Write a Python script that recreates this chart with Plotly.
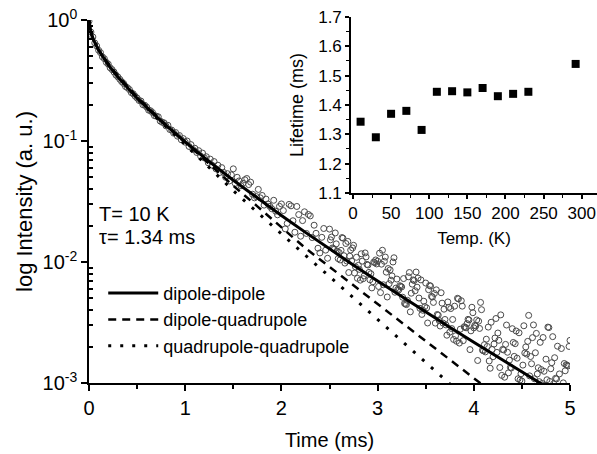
import plotly.graph_objects as go

# ---------------- data ----------------
time_ms = [
    0.00, 0.02, 0.04, 0.06, 0.08, 0.10, 0.12, 0.14, 0.16, 0.18,
    0.20, 0.22, 0.24, 0.26, 0.28, 0.30, 0.32, 0.34, 0.36, 0.38,
    0.40, 0.42, 0.44, 0.46, 0.48, 0.50, 0.52, 0.54, 0.56, 0.58,
    0.60, 0.62, 0.64, 0.66, 0.68, 0.70, 0.72, 0.74, 0.76, 0.78,
    0.80, 0.82, 0.84, 0.86, 0.88, 0.90, 0.92, 0.94, 0.96, 0.98,
    1.00, 1.02, 1.04, 1.06, 1.08, 1.10, 1.12, 1.14, 1.16, 1.18,
    1.20, 1.22, 1.24, 1.26, 1.28, 1.30, 1.32, 1.34, 1.36, 1.38,
    1.40, 1.42, 1.44, 1.46, 1.48, 1.50, 1.52, 1.54, 1.56, 1.58,
    1.60, 1.62, 1.64, 1.66, 1.68, 1.70, 1.72, 1.74, 1.76, 1.78,
    1.80, 1.82, 1.84, 1.86, 1.88, 1.90, 1.92, 1.94, 1.96, 1.98,
    2.00, 2.02, 2.04, 2.06, 2.08, 2.10, 2.12, 2.14, 2.16, 2.18,
    2.20, 2.22, 2.24, 2.26, 2.28, 2.30, 2.32, 2.34, 2.36, 2.38,
    2.40, 2.42, 2.44, 2.46, 2.48, 2.50, 2.52, 2.54, 2.56, 2.58,
    2.60, 2.62, 2.64, 2.66, 2.68, 2.70, 2.72, 2.74, 2.76, 2.78,
    2.80, 2.82, 2.84, 2.86, 2.88, 2.90, 2.92, 2.94, 2.96, 2.98,
    3.00, 3.02, 3.04, 3.06, 3.08, 3.10, 3.12, 3.14, 3.16, 3.18,
    3.20, 3.22, 3.24, 3.26, 3.28, 3.30, 3.32, 3.34, 3.36, 3.38,
    3.40, 3.42, 3.44, 3.46, 3.48, 3.50, 3.52, 3.54, 3.56, 3.58,
    3.60, 3.62, 3.64, 3.66, 3.68, 3.70, 3.72, 3.74, 3.76, 3.78,
    3.80, 3.82, 3.84, 3.86, 3.88, 3.90, 3.92, 3.94, 3.96, 3.98,
    4.00, 4.02, 4.04, 4.06, 4.08, 4.10, 4.12, 4.14, 4.16, 4.18,
    4.20, 4.22, 4.24, 4.26, 4.28, 4.30, 4.32, 4.34, 4.36, 4.38,
    4.40, 4.42, 4.44, 4.46, 4.48, 4.50, 4.52, 4.54, 4.56, 4.58,
    4.60, 4.62, 4.64, 4.66, 4.68, 4.70, 4.72, 4.74, 4.76, 4.78,
    4.80, 4.82, 4.84, 4.86, 4.88, 4.90, 4.92, 4.94, 4.96, 4.98,
    5.00,
]

# measured decay, log10 of intensity
log_intensity = [
    -0.01, -0.10, -0.14, -0.19, -0.215, -0.25, -0.27, -0.305, -0.32, -0.35,
    -0.365, -0.395, -0.41, -0.43, -0.455, -0.47, -0.49, -0.51, -0.525, -0.55,
    -0.56, -0.575, -0.60, -0.61, -0.63, -0.645, -0.665, -0.67, -0.70, -0.705,
    -0.72, -0.745, -0.75, -0.765, -0.79, -0.795, -0.80, -0.835, -0.845, -0.85,
    -0.875, -0.87, -0.905, -0.91, -0.935, -0.93, -0.96, -0.955, -0.99, -0.98,
    -1.01, -1.00, -1.045, -1.03, -1.07, -1.06, -1.095, -1.08, -1.125, -1.10,
    -1.14, -1.13, -1.18, -1.15, -1.20, -1.17, -1.23, -1.20, -1.26, -1.22,
    -1.26, -1.30, -1.27, -1.33, -1.28, -1.23, -1.35, -1.30, -1.33, -1.37,
    -1.35, -1.32, -1.31, -1.36, -1.34, -1.44, -1.47, -1.46, -1.40, -1.47,
    -1.45, -1.53, -1.48, -1.52, -1.54, -1.56, -1.49, -1.58, -1.61, -1.54,
    -1.52, -1.575, -1.726, -1.681, -1.524, -1.536, -1.659, -1.754, -1.541, -1.608,
    -1.787, -1.658, -1.585, -1.764, -1.607, -1.619, -1.798, -1.696, -1.763, -1.886,
    -1.925, -1.796, -1.723, -1.902, -1.969, -1.728, -1.794, -1.889, -1.760, -1.911,
    -1.922, -1.904, -1.803, -2.009, -1.992, -2.087, -1.901, -1.884, -2.091, -1.961,
    -2.028, -2.150, -1.993, -2.115, -1.958, -2.025, -2.147, -2.214, -2.000, -1.983,
    -1.993, -1.927, -2.018, -2.188, -1.959, -2.289, -2.179, -2.150, -2.000, -2.250,
    -2.141, -2.231, -2.201, -2.291, -2.342, -2.352, -2.122, -2.412, -2.183, -2.153,
    -2.083, -2.133, -2.383, -2.433, -2.324, -2.174, -2.504, -2.194, -2.284, -2.334,
    -2.505, -2.434, -2.484, -2.254, -2.505, -2.475, -2.605, -2.375, -2.385, -2.475,
    -2.365, -2.655, -2.305, -2.555, -2.365, -2.535, -2.544, -2.474, -2.724, -2.374,
    -2.544, -2.529, -2.814, -2.549, -2.394, -2.734, -2.743, -2.698, -2.818, -2.498,
    -2.783, -2.628, -2.747, -2.647, -2.437, -2.722, -2.952, -2.521, -2.916, -2.871,
    -2.551, -2.780, -2.570, -2.965, -2.975, -2.984, -2.527, -2.702, -2.656, -2.941,
    -2.841, -2.520, -2.750, -2.925, -2.989, -2.889, -2.624, -3.018, -2.973, -2.542,
    -2.882, -2.617, -2.791, -2.966, -3.031, -3.040, -3.105, -2.839, -2.849, -2.859,
    -2.648,
]

# interleaved readings in the noisy tail
time_ms_b = [
    2.51, 2.53, 2.55, 2.57, 2.59, 2.61, 2.63, 2.65, 2.67, 2.69,
    2.71, 2.73, 2.75, 2.77, 2.79, 2.81, 2.83, 2.85, 2.87, 2.89,
    2.91, 2.93, 2.95, 2.97, 2.99, 3.01, 3.03, 3.05, 3.07, 3.09,
    3.11, 3.13, 3.15, 3.17, 3.19, 3.21, 3.23, 3.25, 3.27, 3.29,
    3.31, 3.33, 3.35, 3.37, 3.39, 3.41, 3.43, 3.45, 3.47, 3.49,
    3.51, 3.53, 3.55, 3.57, 3.59, 3.61, 3.63, 3.65, 3.67, 3.69,
    3.71, 3.73, 3.75, 3.77, 3.79, 3.81, 3.83, 3.85, 3.87, 3.89,
    3.91, 3.93, 3.95, 3.97, 3.99, 4.01, 4.03, 4.05, 4.07, 4.09,
    4.11, 4.13, 4.15, 4.17, 4.19, 4.21, 4.23, 4.25, 4.27, 4.29,
    4.31, 4.33, 4.35, 4.37, 4.39, 4.41, 4.43, 4.45, 4.47, 4.49,
    4.51, 4.53, 4.55, 4.57, 4.59, 4.61, 4.63, 4.65, 4.67, 4.69,
    4.71, 4.73, 4.75, 4.77, 4.79, 4.81, 4.83, 4.85, 4.87, 4.89,
    4.91, 4.93, 4.95, 4.97, 4.99,
]
log_intensity_b = [
    -1.817, -1.884, -1.895, -1.850, -1.972, -1.983, -1.798, -1.948, -1.847, -1.830,
    -1.952, -1.991, -1.862, -2.040, -2.135, -2.061, -1.932, -2.138, -1.925, -2.020,
    -2.086, -2.097, -2.163, -2.006, -2.016, -2.202, -2.253, -1.903, -1.994, -2.084,
    -2.054, -2.065, -2.115, -1.965, -2.216, -2.226, -2.196, -2.206, -2.137, -2.347,
    -2.317, -2.087, -2.258, -2.148, -2.238, -2.208, -2.298, -2.148, -2.399, -2.369,
    -2.379, -2.229, -2.199, -2.289, -2.260, -2.230, -2.439, -2.529, -2.340, -2.390,
    -2.520, -2.330, -2.580, -2.550, -2.640, -2.610, -2.300, -2.670, -2.320, -2.650,
    -2.540, -2.509, -2.479, -2.569, -2.419, -2.524, -2.479, -2.489, -2.334, -2.729,
    -2.683, -2.638, -2.538, -2.878, -2.723, -2.678, -2.467, -2.587, -2.872, -2.937,
    -2.727, -2.681, -2.746, -2.811, -2.876, -2.665, -2.675, -2.795, -2.585, -2.924,
    -2.852, -2.752, -2.761, -2.441, -2.781, -2.625, -2.965, -2.590, -2.874, -2.664,
    -3.004, -2.903, -2.803, -2.538, -2.987, -2.832, -3.006, -2.961, -2.696, -2.925,
    -2.715, -2.999, -2.899, -2.854, -2.698,
]

# fitted curves (log10 of intensity)
fit_time = [0, 0.01, 0.02, 0.05, 0.1, 0.2, 0.3, 0.5, 0.75, 1.0, 1.25, 1.5,
            1.75, 2.0, 2.25, 2.5, 2.75, 3.0, 3.25, 3.5, 3.75, 4.0, 4.25,
            4.5, 4.75]
fit_dd_log = [0, -0.072, -0.103, -0.169, -0.249, -0.371, -0.472, -0.646,
              -0.835, -1.008, -1.170, -1.324, -1.472, -1.615, -1.755, -1.892,
              -2.026, -2.157, -2.286, -2.414, -2.540, -2.664, -2.787, -2.909,
              -3.030]
fit_dq_log = [0, -0.075, -0.105, -0.170, -0.245, -0.360, -0.460, -0.635,
              -0.830, -1.010, -1.190, -1.370, -1.540, -1.710, -1.886, -2.040,
              -2.194, -2.348, -2.502, -2.656, -2.810, -2.964, -3.120, -3.270,
              -3.420]
fit_qq_log = [0, -0.075, -0.105, -0.170, -0.250, -0.365, -0.465, -0.645,
              -0.845, -1.030, -1.220, -1.410, -1.590, -1.770, -1.945, -2.120,
              -2.299, -2.476, -2.653, -2.830, -3.007, -3.180, -3.360, -3.530,
              -3.710]
series_names = ["dipole-dipole", "dipole-quadrupole", "quadrupole-quadrupole"]

# inset: lifetime vs temperature
temp_K = [10, 30, 50, 70, 90, 110, 130, 150, 170, 190, 210, 230, 292]
lifetime_ms = [1.343, 1.290, 1.370, 1.380, 1.315, 1.445, 1.447, 1.443,
               1.458, 1.430, 1.438, 1.445, 1.540]

main_tickvals = [1e-3, 1e-2, 1e-1, 1]
main_ticktext = ["10<sup>-3</sup>", "10<sup>-2</sup>", "10<sup>-1</sup>",
                 "10<sup>0</sup>"]

# ---------------- figure ----------------
FONT = "Arial, Liberation Sans, sans-serif"
all_t = time_ms + time_ms_b
all_i = [10 ** v for v in log_intensity + log_intensity_b]

fig = go.Figure()
fig.add_trace(go.Scatter(
    x=all_t, y=all_i, mode="markers", showlegend=False,
    marker=dict(symbol="circle-open", size=6, color="#4a4a4a",
                line=dict(width=1)),
    xaxis="x", yaxis="y"))

styles = [dict(dash="solid", width=3),
          dict(dash="8px,6px", width=2.5),
          dict(dash="3px,9px", width=3)]
for name, vals, st in zip(series_names, [fit_dd_log, fit_dq_log, fit_qq_log],
                          styles):
    fig.add_trace(go.Scatter(
        x=fit_time, y=[10 ** v for v in vals], mode="lines", name=name,
        line=dict(color="black", **st), xaxis="x", yaxis="y"))

fig.add_trace(go.Scatter(
    x=temp_K, y=lifetime_ms, mode="markers", showlegend=False,
    marker=dict(symbol="square", size=8, color="black"),
    xaxis="x2", yaxis="y2"))

minor_vals = []
for dec in [1e-3, 1e-2, 1e-1]:
    for m in range(2, 10):
        minor_vals.append(m * dec)

axis_common = dict(showgrid=False, zeroline=False, showline=True,
                   linecolor="black", linewidth=1.5, tickcolor="black",
                   tickwidth=1.5, color="black", automargin=False,
                   ticklabeloverflow="allow")

fig.update_layout(
    width=597, height=454,
    margin=dict(l=89, r=0, t=15, b=71),
    paper_bgcolor="white", plot_bgcolor="white",
    font=dict(family=FONT, size=20, color="black"),
    showlegend=True,
    legend=dict(x=0.028, y=0.294, xanchor="left", yanchor="top",
                bgcolor="rgba(0,0,0,0)", font=dict(size=18),
                itemwidth=50, tracegroupgap=0),
    xaxis=dict(domain=[0, 0.9469], range=[0, 5], dtick=1, ticks="outside",
               ticklen=6, anchor="y",
               minor=dict(dtick=0.5, ticks="outside", ticklen=4,
                          tickcolor="black", tickwidth=1.5),
               title=dict(text="Time (ms)", standoff=15,
                          font=dict(size=20)),
               tickfont=dict(size=20), **axis_common),
    yaxis=dict(domain=[0, 0.9864], type="log", range=[-3, 0],
               tickmode="array", tickvals=main_tickvals,
               ticktext=main_ticktext, ticks="outside", ticklen=6,
               anchor="x",
               minor=dict(tickmode="array", tickvals=minor_vals,
                          ticks="inside", ticklen=4, tickcolor="black",
                          tickwidth=1.5),
               title=dict(text="log Intensity (a. u.)", standoff=4,
                          font=dict(size=22)),
               tickfont=dict(size=20), **axis_common),
    xaxis2=dict(domain=[0.5157, 1.0], range=[-2.6, 320], dtick=50,
                ticks="outside", ticklen=4, anchor="y2",
                minor=dict(dtick=25, ticks="outside", ticklen=3,
                           tickcolor="black", tickwidth=1.2),
                title=dict(text="Temp. (K)", standoff=10,
                           font=dict(size=17)),
                tickfont=dict(size=17), **axis_common),
    yaxis2=dict(domain=[0.5163, 0.9946], range=[1.1, 1.7], dtick=0.1,
                tickformat=".1f", ticks="outside", ticklen=4, anchor="x2",
                minor=dict(dtick=0.05, ticks="outside", ticklen=3,
                           tickcolor="black", tickwidth=1.2),
                title=dict(text="Lifetime (ms)", standoff=10,
                           font=dict(size=18)),
                tickfont=dict(size=17), **axis_common),
    annotations=[
        dict(text="T= 10 K", x=0.0157, y=0.46, xref="paper", yref="paper",
             xanchor="left", yanchor="middle", showarrow=False,
             font=dict(size=20)),
        dict(text="τ= 1.34 ms", x=0.0157, y=0.397, xref="paper",
             yref="paper", xanchor="left", yanchor="middle",
             showarrow=False, font=dict(size=20)),
    ],
)

# remove the browser's default 8 px body margin so the figure fills the window
fig.write_html("out.html", config={"displayModeBar": False},
               post_script="document.body.style.margin='0px';")
